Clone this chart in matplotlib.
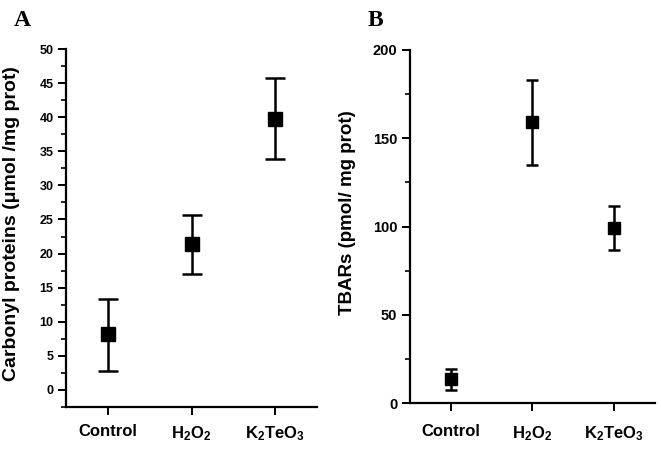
import numpy as np
import matplotlib
matplotlib.use("Agg")
import matplotlib.pyplot as plt

plt.rcParams['font.family'] = ['Liberation Sans', 'DejaVu Sans']
plt.rcParams['font.weight'] = 'bold'
plt.rcParams['mathtext.fontset'] = 'custom'
plt.rcParams['mathtext.bf'] = 'Liberation Sans:bold'
plt.rcParams['mathtext.rm'] = 'Liberation Sans:bold'

# data
groups = ['Control', r'$\mathbf{H_2O_2}$', r'$\mathbf{K_2TeO_3}$']
carbonyl = [8.2, 21.4, 39.8]
carbonyl_hi = [13.3, 25.7, 45.8]
carbonyl_lo = [2.8, 17.0, 33.8]
tbars = [13.8, 159.0, 99.0]
tbars_hi = [19.4, 183.0, 111.7]
tbars_lo = [7.5, 134.7, 86.8]

x = np.arange(1, len(groups) + 1)

fig = plt.figure(figsize=(6.61, 4.5), dpi=100)
axA = fig.add_axes([0.0998, 0.0956, 0.38, 0.7954])
axB = fig.add_axes([0.620, 0.1038, 0.371, 0.7852])


def style(ax, pad):
    for s in ['top', 'right']:
        ax.spines[s].set_visible(False)
    for s in ['left', 'bottom']:
        ax.spines[s].set_linewidth(1.6)
    ax.tick_params(axis='both', which='major', direction='out', width=1.4, length=6)
    ax.tick_params(axis='y', which='minor', direction='out', width=1.2, length=3.5)
    ax.tick_params(axis='x', which='minor', bottom=False)
    ax.set_xlim(0.5, 3.5)
    ax.set_xticks(x)
    ax.set_xticklabels(groups, fontsize=12, fontweight='bold')
    ax.tick_params(axis='x', pad=pad)


# panel A
m = np.array(carbonyl)
err = [m - np.array(carbonyl_lo), np.array(carbonyl_hi) - m]
axA.errorbar(x, m, yerr=err, fmt='s', color='black', ms=9.5, elinewidth=1.8,
             capsize=7.5, capthick=1.8)
style(axA, 6.5)
axA.set_ylim(-2.5, 50)
axA.set_yticks(np.arange(0, 51, 5))
axA.set_yticks(np.arange(-2.5, 50, 2.5), minor=True)
axA.tick_params(axis='y', labelsize=9, pad=3)
fig.text(0.018, (450 - 224) / 450, 'Carbonyl proteins (\u03bcmol /mg prot)', fontsize=14,
         fontweight='bold', rotation=90, ha='center', va='center')

# panel B
m = np.array(tbars)
err = [m - np.array(tbars_lo), np.array(tbars_hi) - m]
axB.errorbar(x, m, yerr=err, fmt='s', color='black', ms=9, elinewidth=1.8,
             capsize=4, capthick=1.8)
style(axB, 9)
axB.set_ylim(0, 200)
axB.set_yticks(np.arange(0, 201, 50))
axB.set_yticks(np.arange(0, 200, 25), minor=True)
axB.tick_params(axis='y', labelsize=10.5, pad=3)
fig.text(347 / 661, (450 - 213) / 450, 'TBARs (pmol/ mg prot)', fontsize=13.5,
         fontweight='bold', rotation=90, ha='center', va='center')

fig.text(0.021, 0.955, 'A', fontsize=17, fontweight='bold', family='Liberation Serif', va='center')
fig.text(0.556, 0.955, 'B', fontsize=17, fontweight='bold', family='Liberation Serif', va='center')

fig.savefig('out.png', dpi=100)
